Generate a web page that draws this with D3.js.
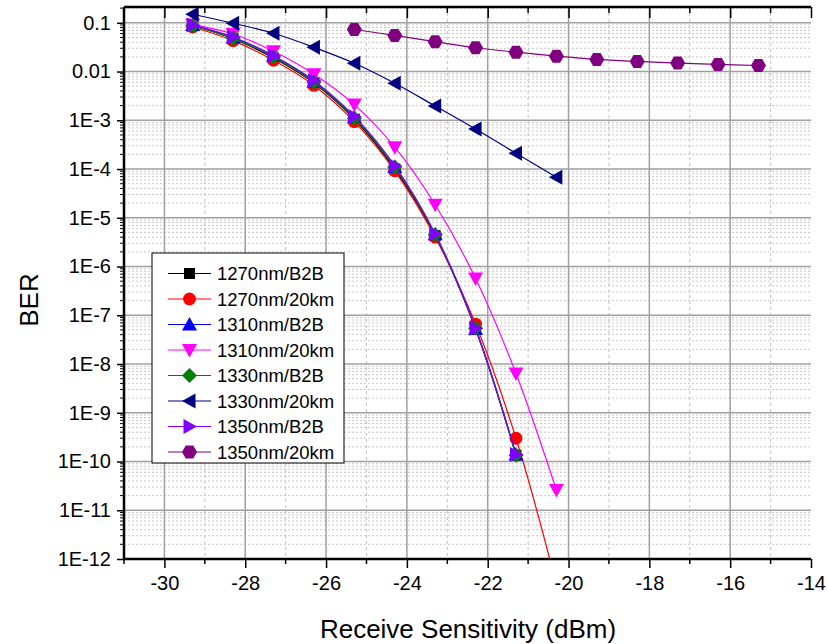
<!DOCTYPE html>
<html>
<head>
<meta charset="utf-8">
<script src="https://cdn.jsdelivr.net/npm/d3@7"></script>
<style>
  body { margin: 0; background: #fff; }
  text { font-family: Arial, "Liberation Sans", sans-serif; fill: #000; }
</style>
</head>
<body>
<div id="chart"></div>
<script>
var w = 827, h = 644;
var plotLeft = 124, plotRight = 811, plotTop = 7, plotBottom = 559;

// x positions (dBm)
var xs = [-29.3, -28.3, -27.3, -26.3, -25.3, -24.3, -23.3, -22.3, -21.3, -20.3];
var xs1350 = [-25.3, -24.3, -23.3, -22.3, -21.3, -20.3, -19.3, -18.3, -17.3, -16.3, -15.3];

var ber1270b2b = [0.088, 0.047, 0.019, 0.0058, 1.05e-3, 1.0e-4, 4.3e-6, 5.3e-8, 1.35e-10];
var ber1270km  = [0.082, 0.043, 0.017, 0.0052, 9.4e-4, 9.2e-5, 4.0e-6, 6.6e-8, 3.0e-10, 3e-13];
var ber1310b2b = [0.09, 0.05, 0.021, 0.0062, 1.15e-3, 1.1e-4, 4.6e-6, 5.2e-8, 1.4e-10];
var ber1310km  = [0.092, 0.059, 0.026, 0.0088, 2.1e-3, 2.8e-4, 1.85e-5, 5.7e-7, 6.4e-9, 2.6e-11];
var ber1330b2b = [0.087, 0.048, 0.02, 0.006, 1.1e-3, 1.1e-4, 4.5e-6, 5.4e-8, 1.35e-10];
var ber1330km  = [0.15, 0.098, 0.061, 0.0314, 0.0148, 5.75e-3, 1.96e-3, 6.6e-4, 2.1e-4, 6.8e-5];
var ber1350b2b = [0.09, 0.051, 0.021, 0.0065, 1.2e-3, 1.17e-4, 4.7e-6, 5.4e-8, 1.4e-10];
var ber1350km  = [0.073, 0.055, 0.041, 0.0308, 0.025, 0.0207, 0.0177, 0.0161, 0.0149, 0.014, 0.0133];

var seriesNames = ['1270nm/B2B', '1270nm/20km', '1310nm/B2B', '1310nm/20km',
                   '1330nm/B2B', '1330nm/20km', '1350nm/B2B', '1350nm/20km'];
var seriesColors = ['#000000', '#ff0000', '#0000ff', '#ff00ff', '#008000', '#000080', '#8000ff', '#800080'];
var seriesShapes = ['square', 'circle', 'up', 'down', 'diamond', 'left', 'right', 'hex'];
var seriesValues = [ber1270b2b, ber1270km, ber1310b2b, ber1310km, ber1330b2b, ber1330km, ber1350b2b, ber1350km];
var seriesX = [xs, xs, xs, xs, xs, xs, xs, xs1350];

var xTicks = [-30, -28, -26, -24, -22, -20, -18, -16, -14];
var yTicks = [0.1, 0.01, 1e-3, 1e-4, 1e-5, 1e-6, 1e-7, 1e-8, 1e-9, 1e-10, 1e-11, 1e-12];
var yTickLabels = ['0.1', '0.01', '1E-3', '1E-4', '1E-5', '1E-6', '1E-7', '1E-8', '1E-9', '1E-10', '1E-11', '1E-12'];

var x = d3.scaleLinear().domain([-31, -14]).range([plotLeft, plotRight]);
var y = d3.scaleLog().domain([1e-12, 0.211]).range([plotBottom, plotTop]);

var svg = d3.select('#chart').append('svg')
  .attr('width', w).attr('height', h);

svg.append('defs').append('clipPath').attr('id', 'plot')
  .append('rect').attr('x', plotLeft).attr('y', plotTop)
  .attr('width', plotRight - plotLeft).attr('height', plotBottom - plotTop);

////////////////////////
// Grid
////////////////////////
var grid = svg.append('g').attr('class', 'grid');
var minorY = [];
yTicks.slice(0, -1).forEach(function(d) {
  for (var k = 2; k <= 9; k++) minorY.push(d * k / 10);
});
minorY.push(0.2);
grid.selectAll('.ymin').data(minorY).enter().append('line')
  .attr('x1', plotLeft).attr('x2', plotRight)
  .attr('y1', function(d) { return y(d); }).attr('y2', function(d) { return y(d); })
  .attr('stroke', '#c8c8c8').attr('stroke-width', 1).attr('stroke-dasharray', '2,2');
var minorX = d3.range(-29, -14, 2);
grid.selectAll('.xmin').data(minorX).enter().append('line')
  .attr('y1', plotTop).attr('y2', plotBottom)
  .attr('x1', function(d) { return x(d); }).attr('x2', function(d) { return x(d); })
  .attr('stroke', '#c0c0c0').attr('stroke-width', 1).attr('stroke-dasharray', '3,3');
grid.selectAll('.ymaj').data(yTicks.slice(0, -1)).enter().append('line')
  .attr('x1', plotLeft).attr('x2', plotRight)
  .attr('y1', function(d) { return y(d); }).attr('y2', function(d) { return y(d); })
  .attr('stroke', '#a0a0a0').attr('stroke-width', 1.5);
grid.selectAll('.xmaj').data(xTicks.slice(0, -1)).enter().append('line')
  .attr('y1', plotTop).attr('y2', plotBottom)
  .attr('x1', function(d) { return x(d); }).attr('x2', function(d) { return x(d); })
  .attr('stroke', '#a0a0a0').attr('stroke-width', 1.5);

////////////////////////
// Axes
////////////////////////
var xAxis = d3.axisBottom(x).tickValues(xTicks).tickSize(9).tickPadding(8)
  .tickFormat(function(d) { return d; });
var gx = svg.append('g').attr('transform', 'translate(0,' + plotBottom + ')').call(xAxis);
gx.append('g').selectAll('line').data(d3.range(-31, -14, 2)).enter().append('line')
  .attr('x1', function(d) { return x(d); }).attr('x2', function(d) { return x(d); })
  .attr('y1', 0).attr('y2', 5).attr('stroke', '#000').attr('stroke-width', 1.5);

var xTop = d3.axisTop(x).tickValues(xTicks).tickSize(-11).tickFormat('');
var gt = svg.append('g').attr('transform', 'translate(0,' + plotTop + ')').call(xTop);
gt.append('g').selectAll('line').data(d3.range(-31, -14, 2)).enter().append('line')
  .attr('x1', function(d) { return x(d); }).attr('x2', function(d) { return x(d); })
  .attr('y1', 0).attr('y2', 6).attr('stroke', '#000').attr('stroke-width', 1.5);

var yAxis = d3.axisLeft(y).tickValues(yTicks).tickSize(7).tickPadding(6)
  .tickFormat(function(d, i) { return yTickLabels[i]; });
var gy = svg.append('g').attr('transform', 'translate(' + plotLeft + ',0)').call(yAxis);
gy.append('g').selectAll('line').data(minorY.filter(function(d) { return d < 0.21; })).enter().append('line')
  .attr('y1', function(d) { return y(d); }).attr('y2', function(d) { return y(d); })
  .attr('x1', 0).attr('x2', -4).attr('stroke', '#000').attr('stroke-width', 1);

[gx, gt, gy].forEach(function(g) {
  g.select('.domain').attr('stroke', '#000').attr('stroke-width', 2.5);
  g.selectAll('.tick line').attr('stroke', '#000').attr('stroke-width', 1.5);
  g.selectAll('.tick text').style('font-size', '20px').attr('font-family', null);
});
gx.select('.domain').attr('d', 'M' + plotLeft + ',0H' + plotRight);
gt.select('.domain').attr('d', 'M' + plotLeft + ',0H' + plotRight);
gy.select('.domain').attr('d', 'M0,' + plotBottom + 'V' + plotTop);

svg.append('text').attr('x', 468).attr('y', 638)
  .attr('text-anchor', 'middle').style('font-size', '26px')
  .text('Receive Sensitivity (dBm)');
svg.append('text').attr('transform', 'translate(38,' + 300 + ') rotate(-90)')
  .attr('text-anchor', 'middle').style('font-size', '26px')
  .text('BER');

////////////////////////
// Markers
////////////////////////
function shapePath(shape) {
  var s = 7.5;
  switch (shape) {
    case 'square': return 'M-5.5,-5.5H5.5V5.5H-5.5Z';
    case 'circle': return d3.symbol(d3.symbolCircle, 130)();
    case 'up': return 'M0,-7.5L7.5,6L-7.5,6Z';
    case 'down': return 'M0,7.5L7.5,-6L-7.5,-6Z';
    case 'left': return 'M-7.5,0L6,-7.5L6,7.5Z';
    case 'right': return 'M7.5,0L-6,-7.5L-6,7.5Z';
    case 'diamond': return 'M0,-7.5L7.5,0L0,7.5L-7.5,0Z';
    case 'hex':
      var pts = d3.range(6).map(function(i) {
        var a = Math.PI / 3 * i;
        return [s * Math.cos(a), s * Math.sin(a)];
      });
      return 'M' + pts.join('L') + 'Z';
  }
}

var line = d3.line()
  .x(function(d) { return x(d[0]); })
  .y(function(d) { return y(d[1]); })
  .curve(d3.curveCatmullRom.alpha(0.5));

var plot = svg.append('g').attr('clip-path', 'url(#plot)');
seriesValues.forEach(function(vals, si) {
  var pts = vals.map(function(v, i) { return [seriesX[si][i], v]; });
  var g = plot.append('g');
  g.append('path').datum(pts)
    .attr('d', line)
    .attr('fill', 'none')
    .attr('stroke', seriesColors[si])
    .attr('stroke-width', 1.2);
  g.selectAll('path.m').data(pts).enter().append('path')
    .attr('class', 'm')
    .attr('d', shapePath(seriesShapes[si]))
    .attr('transform', function(d) { return 'translate(' + x(d[0]) + ',' + y(d[1]) + ')'; })
    .attr('fill', seriesColors[si]);
});

////////////////////////
// Legend
////////////////////////
var legend = svg.append('g').attr('transform', 'translate(152,253)');
legend.append('rect').attr('width', 192).attr('height', 210)
  .attr('fill', '#fff').attr('stroke', '#000').attr('stroke-width', 1);
var items = legend.selectAll('g.item').data(seriesNames).enter().append('g')
  .attr('class', 'item')
  .attr('transform', function(d, i) { return 'translate(0,' + (20.5 + i * 25.5) + ')'; });
items.append('line').attr('x1', 16).attr('x2', 59)
  .attr('stroke', function(d, i) { return seriesColors[i]; }).attr('stroke-width', 1.2);
items.append('path')
  .attr('d', function(d, i) { return shapePath(seriesShapes[i]); })
  .attr('transform', 'translate(37.5,0)')
  .attr('fill', function(d, i) { return seriesColors[i]; });
items.append('text').attr('x', 65).attr('y', 6.5)
  .style('font-size', '18.5px')
  .text(function(d) { return d; });
</script>
</body>
</html>
